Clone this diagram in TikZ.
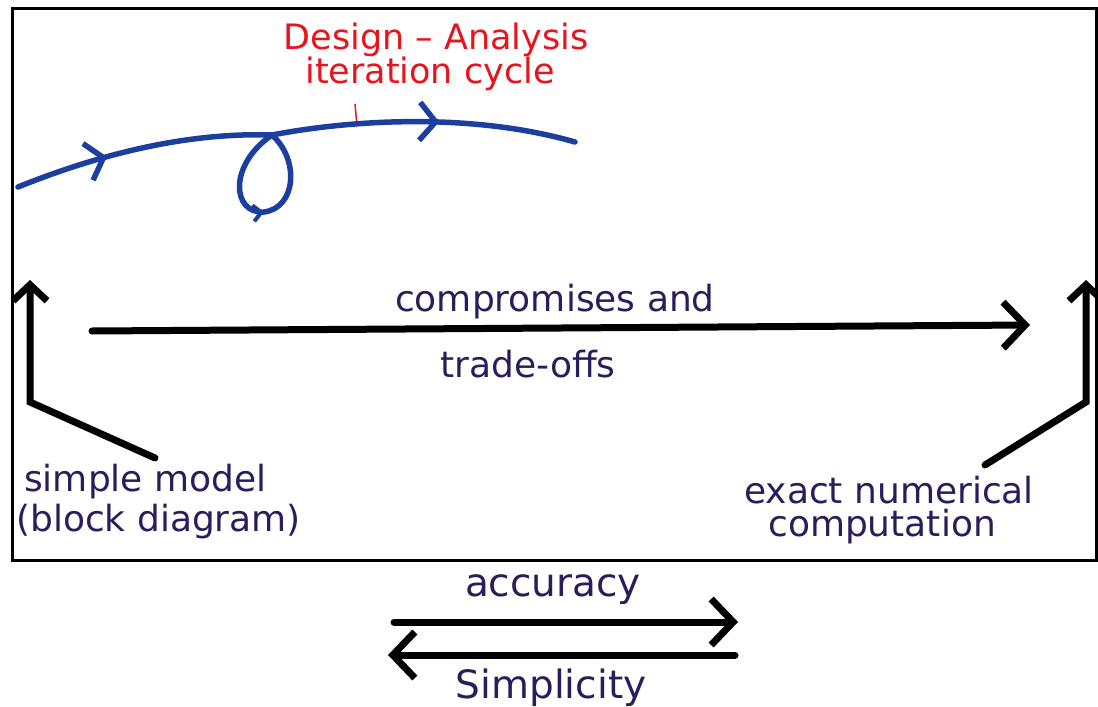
\documentclass[tikz,border=0pt]{standalone}
\usepackage{fontspec}
\setmainfont{DejaVu Sans}
\usetikzlibrary{arrows.meta,decorations.markings}
\definecolor{ink}{HTML}{2B1D5C}
\definecolor{redink}{HTML}{E8141C}
\definecolor{blueink}{HTML}{1B3F9E}
\tikzset{
  lbl/.style={text=ink, font=\fontsize{36}{40}\selectfont, inner sep=0pt},
  leglbl/.style={text=ink, font=\fontsize{39}{44}\selectfont, inner sep=0pt},
  redlbl/.style={text=redink, font=\fontsize{35}{40}\selectfont, inner sep=0pt},
  frame/.style={draw=black, line width=3pt},
  bigarrow/.style={draw=black, line width=7pt, line join=miter, line cap=round,
    -{Straight Barb[length=22pt,width=46pt]}},
  uparrow/.style={draw=black, line width=7pt, line join=miter, line cap=round,
    -{Straight Barb[length=16pt,width=34pt]}},
  bluepath/.style={draw=blueink, line width=5.5pt, line cap=round},
  bluetip/.style={decoration={markings, mark=at position #1 with {\arrow[blueink, line width=5.5pt]{Straight Barb[length=16pt,width=38pt]}}}, postaction=decorate},
  smalltip/.style={decoration={markings, mark=at position #1 with {\arrow[blueink, line width=4pt]{Straight Barb[length=8pt,width=16pt]}}}, postaction=decorate},
}
\begin{document}
\begin{tikzpicture}[x=1pt,y=-1pt]
\useasboundingbox (0,0) rectangle (1098,707);
\draw[frame] (12,8) rectangle (1096,560);

% red labels
\node[redlbl] (da) at (436,40) {Design -- Analysis};
\node[redlbl] (ic) at (430,74) {iteration cycle};
\coordinate (tk0) at (355,104);
\coordinate (tk1) at (357,126);
\draw[redink, line width=1.5pt] (tk0) -- (tk1);

% blue iteration curve
\coordinate (b0) at (18,187);
\coordinate (b1) at (272,135);
\coordinate (b2) at (575,142);
\draw[bluepath, bluetip=0.36] (b0) .. controls (90,158) and (180,132) .. (b1);
\draw[bluepath, smalltip=0.52] (b1) .. controls (228,165) and (232,214) .. (264,212)
   .. controls (296,208) and (300,160) .. (b1);
\draw[bluepath, bluetip=0.55] (b1) .. controls (350,120) and (470,112) .. (b2);

% middle arrow
\node[lbl] (cm) at (555,302) {compromises and};
\node[lbl] (to) at (528,364) {trade-offs};
\coordinate (m0) at (92,331);
\coordinate (m1) at (1030,325);
\draw[bigarrow] (m0) -- (m1);

% left and right labels with arrows
\node[lbl, anchor=west] (sm) at (24,482) {simple model};
\node[lbl, anchor=west] (bd) at (16,522) {(block diagram)};
\node[lbl, anchor=west] (en) at (744,490) {exact numerical};
\node[lbl, anchor=west] (cp) at (768,527) {computation};

\coordinate (l0) at (155,458);
\coordinate (l1) at (30,402);
\coordinate (l2) at (30,280);
\draw[uparrow] (l0) -- (l1) -- (l2);

\coordinate (r0) at (985,465);
\coordinate (r1) at (1086,402);
\coordinate (r2) at (1086,280);
\draw[uparrow] (r0) -- (r1) -- (r2);

% bottom legend
\node[leglbl] (ac) at (553,590) {accuracy};
\node[leglbl] (si) at (551,688) {Simplicity};
\coordinate (a0) at (394,622);
\coordinate (a1) at (738,622);
\coordinate (s0) at (735,655);
\coordinate (s1) at (388,655);
\draw[bigarrow] (a0) -- (a1);
\draw[bigarrow] (s0) -- (s1);
\end{tikzpicture}
\end{document}
